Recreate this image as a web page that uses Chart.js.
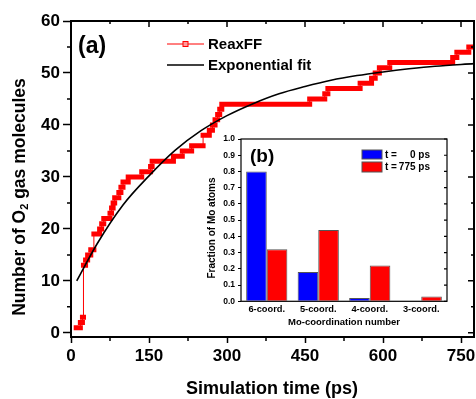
<!DOCTYPE html>
<html>
<head>
<meta charset="utf-8">
<script src="https://cdn.jsdelivr.net/npm/chart.js@4.4.1/dist/chart.umd.min.js"></script>
<style>
  html, body { margin: 0; padding: 0; background: #fff; }
  #wrap { position: relative; width: 476px; height: 399px; }
  #main { position: absolute; left: 0; top: 0; }
  #inset { position: absolute; left: 200px; top: 128px; }
</style>
</head>
<body>
<div id="wrap">
  <canvas id="main" width="476" height="399"></canvas>
  <canvas id="inset" width="260" height="200"></canvas>
</div>
<script>
'use strict';
var FONT = '"Liberation Sans", Arial, sans-serif';

// [ (a) O2 release ] data
var stepTimes = [10, 18, 22, 24, 28, 32, 38, 44, 55, 59, 63, 75, 78, 81, 84, 92, 96, 100, 110, 136,
                 153, 156, 197, 214, 232, 254, 266, 272, 277, 282, 286, 290, 459, 488, 494, 556, 578, 585, 593, 613,
                 734, 742, 765, 776];
var stepCounts = [1, 2, 3, 13, 14, 15, 16, 19, 20, 21, 22, 23, 24, 25, 26, 27, 28, 29, 30, 31,
                  32, 33, 34, 35, 36, 38, 39, 40, 41, 42, 43, 44, 45, 46, 47, 48, 49, 50, 51, 52,
                  53, 54, 55, 55];
var fitTimes = [11, 50, 100, 150, 200, 250, 300, 350, 400, 450, 500, 550, 600, 650, 700, 775];
var fitCounts = [10.0, 17.1, 24.6, 30.2, 35.1, 38.9, 41.8, 44.1, 46.0, 47.4, 48.6, 49.5, 50.2, 50.8, 51.3, 51.8];
var xTicks = [0, 150, 300, 450, 600, 750];
var yTicks = [0, 10, 20, 30, 40, 50, 60];

// [ (b) inset ] data
var coordLabels = ['6-coord.', '5-coord.', '4-coord.', '3-coord.'];
var fracStart = [0.80, 0.18, 0.02, 0.0];
var fracEnd = [0.32, 0.44, 0.22, 0.03];
var fracTicks = [0, 0.1, 0.2, 0.3, 0.4, 0.5, 0.6, 0.7, 0.8, 0.9, 1.0];

function midTicks(major) {
    var out = [];
    for (var i = 0; i < major.length - 1; i++) out.push((major[i] + major[i + 1]) / 2);
    return out;
}

// plateaus drawn as a thick band, the jumps as a thin stepped line
var bandPts = [];
for (var i = 0; i < stepTimes.length - 1; i++) {
    bandPts.push({x: stepTimes[i], y: stepCounts[i]});
    bandPts.push({x: stepTimes[i + 1], y: stepCounts[i]});
    bandPts.push({x: stepTimes[i + 1], y: null});
}
var stepPts = stepTimes.map(function(t, i) { return {x: t, y: stepCounts[i]}; });
var fitPts = fitTimes.map(function(t, i) { return {x: t, y: fitCounts[i]}; });

var mainFrame = {
    id: 'mainFrame',
    afterDatasetsDraw: function(chart) {
        var c = chart.ctx, a = chart.chartArea, xs = chart.scales.x, ys = chart.scales.y;
        c.save();
        c.strokeStyle = '#000';
        c.lineWidth = 2;
        c.beginPath();
        c.moveTo(a.left, a.top); c.lineTo(a.right, a.top); c.lineTo(a.right, a.bottom);
        c.stroke();

        c.lineWidth = 1.5;
        c.beginPath();
        xTicks.forEach(function(v) {
            var p = xs.getPixelForValue(v);
            c.moveTo(p, a.top); c.lineTo(p, a.top + 6);
        });
        midTicks(xTicks).forEach(function(v) {
            var p = xs.getPixelForValue(v);
            c.moveTo(p, a.bottom); c.lineTo(p, a.bottom + 4);
            c.moveTo(p, a.top); c.lineTo(p, a.top + 3);
        });
        yTicks.forEach(function(v) {
            var p = ys.getPixelForValue(v);
            c.moveTo(a.right, p); c.lineTo(a.right - 6, p);
        });
        midTicks(yTicks).forEach(function(v) {
            var p = ys.getPixelForValue(v);
            c.moveTo(a.left, p); c.lineTo(a.left - 4, p);
            c.moveTo(a.right, p); c.lineTo(a.right - 3, p);
        });
        c.stroke();

        // legend
        c.strokeStyle = '#ff0000'; c.lineWidth = 1;
        c.beginPath(); c.moveTo(167, 44); c.lineTo(204, 44); c.stroke();
        c.fillStyle = '#ff9a9a'; c.fillRect(183, 41.5, 5, 5);
        c.strokeRect(183, 41.5, 5, 5);
        c.strokeStyle = '#000'; c.lineWidth = 1.5;
        c.beginPath(); c.moveTo(167, 65); c.lineTo(204, 65); c.stroke();
        c.fillStyle = '#000';
        c.textBaseline = 'middle'; c.textAlign = 'left';
        c.font = 'bold 15px ' + FONT;
        c.fillText('ReaxFF', 208, 45);
        c.fillText('Exponential fit', 208, 66);

        c.font = 'bold 23px ' + FONT;
        c.fillText('(a)', 78, 47);

        c.font = 'bold 18px ' + FONT;
        c.textAlign = 'center';
        c.fillText('Simulation time (ps)', 272, 389);

        // y title with subscript
        c.translate(20, 197);
        c.rotate(-Math.PI / 2);
        var big = 'bold 17.5px ' + FONT, small = 'bold 11px ' + FONT;
        var p1 = 'Number of O', p2 = '2', p3 = ' gas molecules';
        c.font = big; var w1 = c.measureText(p1).width, w3 = c.measureText(p3).width;
        c.font = small; var w2 = c.measureText(p2).width;
        var x0 = -(w1 + w2 + w3) / 2;
        c.textAlign = 'left';
        c.font = big; c.fillText(p1, x0, 0);
        c.font = small; c.fillText(p2, x0 + w1, 5);
        c.font = big; c.fillText(p3, x0 + w1 + w2, 0);
        c.restore();
    }
};

var mainChart = new Chart(document.getElementById('main').getContext('2d'), {
    type: 'line',
    data: {
        datasets: [{
            label: 'Exponential fit',
            data: fitPts,
            borderColor: '#000',
            borderWidth: 1.6,
            pointRadius: 0,
            cubicInterpolationMode: 'monotone',
            fill: false
        }, {
            label: 'ReaxFF',
            data: stepPts,
            borderColor: '#ff0000',
            borderWidth: 1,
            stepped: 'before',
            pointRadius: 0,
            fill: false
        }, {
            label: 'ReaxFF band',
            data: bandPts,
            borderColor: '#ff0000',
            borderWidth: 5,
            borderCapStyle: 'square',
            spanGaps: false,
            pointRadius: 0,
            fill: false
        }, {
            label: 'ReaxFF band core',
            data: bandPts,
            borderColor: '#ff8c8c',
            borderWidth: 1,
            spanGaps: false,
            pointRadius: 0,
            fill: false
        }]
    },
    options: {
        responsive: false,
        animation: false,
        layout: { padding: { top: 21, right: 2, left: 0, bottom: 0 } },
        plugins: { legend: { display: false }, tooltip: { enabled: false } },
        scales: {
            x: {
                type: 'linear', min: 0, max: 775,
                afterBuildTicks: function(s) { s.ticks = xTicks.map(function(v) { return {value: v}; }); },
                afterFit: function(s) { s.height = 62; s.paddingLeft = 0; s.paddingRight = 0; },
                ticks: { color: '#000', font: { family: FONT, size: 17, weight: 'bold' }, padding: 3, maxRotation: 0, autoSkip: false },
                grid: { display: true, drawOnChartArea: false, tickLength: 6, tickColor: '#000', tickWidth: 1.5 },
                border: { display: true, color: '#000', width: 2 }
            },
            y: {
                type: 'linear', min: -0.8, max: 60,
                afterBuildTicks: function(s) { s.ticks = yTicks.map(function(v) { return {value: v}; }); },
                afterFit: function(s) { s.width = 71; s.paddingTop = 0; s.paddingBottom = 0; },
                ticks: { color: '#000', font: { family: FONT, size: 17, weight: 'bold' }, padding: 3 },
                grid: { display: true, drawOnChartArea: false, tickLength: 8, tickColor: '#000', tickWidth: 1.5 },
                border: { display: true, color: '#000', width: 2 }
            }
        }
    },
    plugins: [mainFrame]
});

var insetFrame = {
    id: 'insetFrame',
    afterDatasetsDraw: function(chart) {
        var c = chart.ctx, a = chart.chartArea, ys = chart.scales.y;
        c.save();
        c.strokeStyle = '#000'; c.lineWidth = 1.2;
        c.strokeRect(a.left, a.top, a.right - a.left, a.bottom - a.top);
        c.beginPath();
        fracTicks.forEach(function(v) {
            var p = ys.getPixelForValue(v);
            c.moveTo(a.right, p); c.lineTo(a.right - 3, p);
        });
        c.stroke();

        // legend
        c.lineWidth = 1; c.strokeStyle = '#555';
        c.fillStyle = '#0000ff'; c.fillRect(162, 22, 20, 9); c.strokeRect(162, 22, 20, 9);
        c.fillStyle = '#ff0000'; c.fillRect(162, 34, 20, 10); c.strokeRect(162, 34, 20, 10);
        c.fillStyle = '#000';
        c.textBaseline = 'middle';
        c.font = 'bold 10px ' + FONT;
        c.textAlign = 'left';
        c.fillText('t =', 185, 27);
        c.fillText('t =', 185, 39.5);
        c.textAlign = 'right';
        c.fillText('0 ps', 230, 27);
        c.fillText('775 ps', 230, 39.5);

        c.textAlign = 'left';
        c.font = 'bold 19px ' + FONT;
        c.fillText('(b)', 50, 29);

        c.textAlign = 'center';
        c.font = 'bold 9.5px ' + FONT;
        c.fillText('Mo-coordination number', 144, 194);
        c.translate(12.5, 100);
        c.rotate(-Math.PI / 2);
        c.font = 'bold 10px ' + FONT;
        c.fillText('Fraction of Mo atoms', 0, 0);
        c.restore();
    }
};

var insetChart = new Chart(document.getElementById('inset').getContext('2d'), {
    type: 'bar',
    data: {
        labels: coordLabels,
        datasets: [{
            label: 't = 0 ps',
            data: fracStart,
            backgroundColor: '#0000ff',
            borderColor: '#555',
            borderWidth: 1
        }, {
            label: 't = 775 ps',
            data: fracEnd,
            backgroundColor: '#ff0000',
            borderColor: '#555',
            borderWidth: 1
        }]
    },
    options: {
        responsive: false,
        animation: false,
        layout: { padding: { top: 11, right: 13, left: 0, bottom: 0 } },
        plugins: { legend: { display: false }, tooltip: { enabled: false } },
        datasets: { bar: { barPercentage: 1.0, categoryPercentage: 0.8 } },
        scales: {
            x: {
                afterFit: function(s) { s.height = 26.7; },
                grid: { display: false, drawTicks: false },
                border: { display: false },
                ticks: { color: '#000', font: { family: FONT, size: 9.3, weight: 'bold' }, padding: 3 }
            },
            y: {
                min: 0, max: 1,
                afterBuildTicks: function(s) { s.ticks = fracTicks.map(function(v) { return {value: v}; }); },
                afterFit: function(s) { s.width = 41; },
                ticks: { color: '#000', font: { family: FONT, size: 8.5, weight: 'bold' }, padding: 3,
                         callback: function(v) { return v.toFixed(1); } },
                grid: { display: true, drawOnChartArea: false, tickLength: 3, tickColor: '#000' },
                border: { display: false }
            }
        }
    },
    plugins: [insetFrame]
});
</script>
</body>
</html>
